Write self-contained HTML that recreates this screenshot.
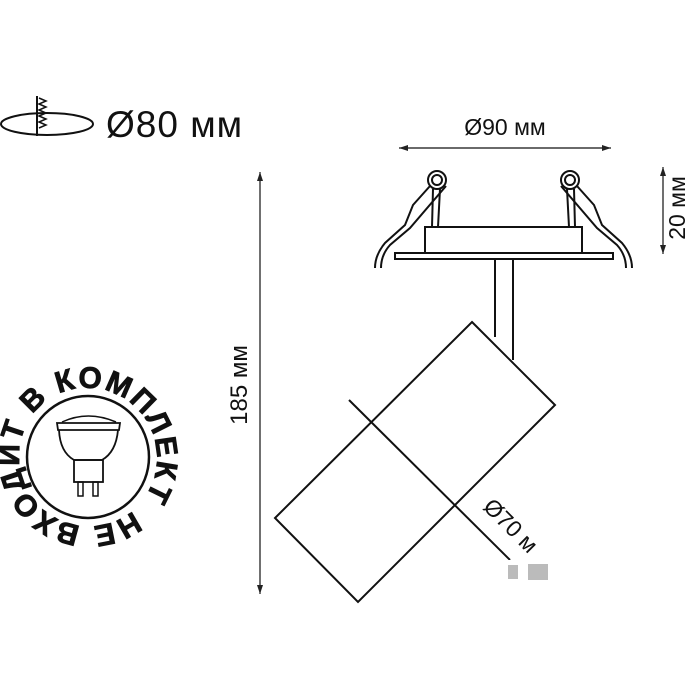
<!DOCTYPE html>
<html><head><meta charset="utf-8"><style>body{margin:0;background:#fff}svg{display:block}</style></head>
<body>
<svg width="700" height="700" viewBox="0 0 700 700" xmlns="http://www.w3.org/2000/svg" font-family="Liberation Sans, sans-serif">
<defs>
<marker id="a" markerWidth="10" markerHeight="8" refX="9" refY="4" orient="auto-start-reverse" markerUnits="userSpaceOnUse"><path d="M0,1 L9,4 L0,7 z" fill="#222"/></marker>
<path id="ring" d="M133,510.6 A70,70 0 0 1 43,403.4 A70,70 0 0 1 133,510.6"/>
</defs>
<g fill="none" stroke="#111" stroke-width="2">
<ellipse cx="47" cy="124" rx="46" ry="11"/>
<line x1="37" y1="96" x2="37" y2="136"/>
<path d="M39,98 L46,101 L39,104 L46,107 L39,110 L46,113 L39,116 L46,119 L39,122 L46,125 L39,128" stroke-width="1.5"/>
<line x1="399" y1="148" x2="611" y2="148" stroke-width="1.2" marker-start="url(#a)" marker-end="url(#a)"/>
<line x1="663" y1="167" x2="663" y2="254" stroke-width="1.2" marker-start="url(#a)" marker-end="url(#a)"/>
<line x1="260" y1="172" x2="260" y2="594" stroke-width="1.2" marker-start="url(#a)" marker-end="url(#a)"/>
<rect x="395" y="253" width="218" height="6"/>
<rect x="425" y="227" width="157" height="26"/>
<circle cx="437" cy="180" r="9"/><circle cx="437" cy="180" r="5"/>
<circle cx="570" cy="180" r="9"/><circle cx="570" cy="180" r="5"/>
<path d="M430,186 L413,205 L405,225 L385,243 Q375,255 375,268"/>
<path d="M446,186 L410,228 L390,245 Q381,255 381,268"/>
<path d="M433,189 L432,227 M440,189 L438,227"/>
<path d="M577,186 L594,205 L602,225 L622,243 Q632,255 632,268"/>
<path d="M561,186 L597,228 L617,245 Q626,255 626,268"/>
<path d="M574,189 L575,227 M567,189 L569,227"/>
<line x1="495" y1="259" x2="495" y2="337"/>
<line x1="513" y1="259" x2="513" y2="360"/>
<polygon points="472,322 555,405 358,602 275,518"/>
<line x1="349" y1="400" x2="510" y2="560"/>
<circle cx="88" cy="457" r="61" stroke-width="2.5"/>
<path d="M57,423 L120,423 L119,430 L58,430 Z" stroke-width="1.8"/>
<path d="M59,430 Q60,452 74,460 L102,460 Q116,452 118,430" stroke-width="1.8"/>
<rect x="74" y="460" width="29" height="22" stroke-width="1.8"/>
<rect x="78" y="482" width="5" height="14" stroke-width="1.5"/>
<rect x="93" y="482" width="5" height="14" stroke-width="1.5"/>
<path d="M62,422 Q88,410 116,422" stroke-width="1.5"/>
</g>
<text x="106" y="137" font-size="37" fill="#111" letter-spacing="1">Ø80 мм</text>
<text x="505" y="135" font-size="23" fill="#111" text-anchor="middle">Ø90 мм</text>
<text transform="translate(685,208) rotate(-90)" font-size="23" fill="#111" text-anchor="middle">20 мм</text>
<text transform="translate(247,385) rotate(-90)" font-size="24" fill="#111" text-anchor="middle">185 мм</text>
<text transform="translate(482,508) rotate(45)" font-size="23" fill="#111">Ø70 м</text>
<rect x="508" y="560" width="80" height="30" fill="#fff"/>
<rect x="508" y="565" width="10" height="14" fill="#bbb"/>
<rect x="528" y="564" width="20" height="16" fill="#bbb"/>
<text font-size="30" font-weight="bold" fill="#111" stroke="#111" stroke-width="0.8"><textPath href="#ring" textLength="415" lengthAdjust="spacing">НЕ ВХОДИТ В КОМПЛЕКТ</textPath></text>
</svg>
</body></html>
